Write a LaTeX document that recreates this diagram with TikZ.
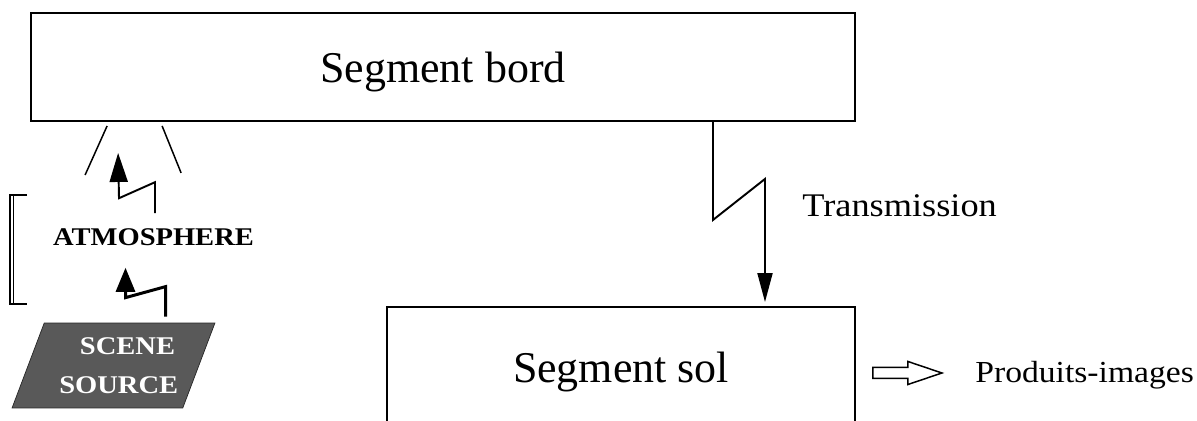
\documentclass[tikz,border=0pt]{standalone}
\usepackage{fontspec}
\setmainfont{Liberation Serif}
\newfontfamily\widefont[FakeStretch=1.1]{Liberation Serif}
\newfontfamily\capsfont[FakeStretch=1.12]{Liberation Serif}
\usetikzlibrary{arrows.meta}
\usetikzlibrary{calc}
\usetikzlibrary{positioning}
\usetikzlibrary{shapes.geometric}
\tikzset{segbox/.style = {draw, line width = 1.1pt, text depth = 0pt, font = \fontsize{25}{30}\selectfont}}
\tikzset{caps/.style = {inner sep = 0, text depth = 0pt, font = \capsfont\bfseries\fontsize{14.5}{21.6}\selectfont}}
\tikzset{note/.style = {inner sep = 0, anchor = base west, font = \widefont\fontsize{#1}{#1}\selectfont}}
\tikzset{ray/.style = {line width = 1.1pt, -{Triangle[length = 0.58cm, width = 0.3cm]}}}
\tikzset{bolt/.style = {line width = 1.7pt, -{Triangle[length = 0.48cm, width = 0.38cm]}}}
\tikzset{cone/.style = {line width = 0.85pt}}

\begin{document}
\begin{tikzpicture}[x = 0.02cm, y = -0.02cm]
    \useasboundingbox (0, 0) rectangle (1197, 421);
    \clip (0, 0) rectangle (1197, 421);

    \node [segbox, minimum width = 16.48cm, minimum height = 2.16cm] (bord) at (443, 67) {Segment bord};
    \node [segbox, minimum width = 9.36cm, minimum height = 2.4cm] (sol) at (621, 367) {Segment sol};

    \node [caps] (atmo) at (153.5, 237) {ATMOSPHERE};
    \node [caps, shape = trapezium, trapezium left angle = 62, trapezium right angle = 118,
        trapezium stretches, minimum width = 4.06cm, minimum height = 1.7cm,
        fill = black!65, draw = black!85, text = white, align = center] (scene) at (113.5, 365.5) {\hspace*{16pt}SCENE\\[1pt]\hspace*{6pt}SOURCE};

    \node [note = 18.8] (trans) at (802, 217) {Transmission};
    \node [note = 17.4] (prod) at (975, 383) {Produits-images};

    % field of view under the platform
    \draw [cone] ($(bord.south west) + (77, 4)$) -- ++(-22, 49);
    \draw [cone] ($(bord.south west) + (132, 4)$) -- ++(19, 47);

    % atmosphere bracket
    \draw [cone] (27, 195) -- (10, 195) -- (10, 304) -- (27, 304);
    \draw [cone] (13.5, 195) -- (13.5, 304);

    \coordinate (atmoin) at ($(atmo.south) + (-28, 22)$);
    \coordinate (bordin) at ($(bord.south west) + (88, 31)$);
    \draw [bolt] ($(scene.north) + (52, -6)$) -- ++(0, -30) -- ++(-40, 11) -- (atmoin);
    \draw [ray, -{Triangle[length = 0.58cm, width = 0.36cm]}] ($(atmo.north) + (1.5, -15)$) -- ++(0, -31) -- ++(-36, 16) -- (bordin);

    \draw [ray] ($(bord.south) + (270, 0)$) -- ++(0, 98) -- ++(52, -41) -- ($(sol.north) + (144, -4)$);

    \draw [cone] ($(sol.east) + (17, 0.5)$) -- ++(35, 0) -- ++(0, -6) -- ++(34, 11.5)
        -- ++(-34, 11.5) -- ++(0, -6) -- ++(-35, 0) -- cycle;
\end{tikzpicture}
\end{document}
